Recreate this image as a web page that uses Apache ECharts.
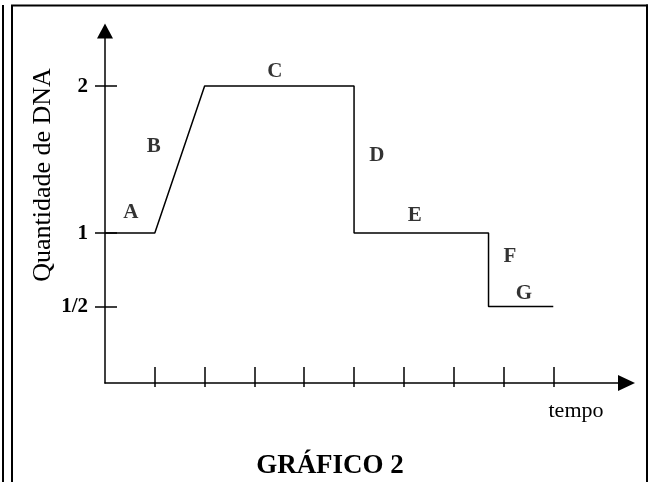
<!DOCTYPE html>
<html>
<head>
<meta charset="UTF-8">
<script src="https://cdn.jsdelivr.net/npm/echarts@6/dist/echarts.min.js"></script>
<title>Gráfico 2</title>
<style>
  html, body { margin: 0; padding: 0; background: #fff; }
  #chart { width: 651px; height: 482px; }
</style>
</head>
<body>
<div id="chart"></div>
<script>
// tempo / quantidade de DNA
var dnaTime   = [0, 1, 2, 5, 5, 7.7, 7.7, 9];
var dnaAmount = [1, 1, 2, 2, 1, 1, 0.5, 0.5];

// ticks
var xTicks      = [1, 2, 3, 4, 5, 6, 7, 8, 9];
var yTickValues = [0.5, 1, 2];
var yTickLabels = ['1/2', '1', '2'];

// letras das fases e onde ficam (em unidades do grafico)
var phaseNames = ['A', 'B', 'C', 'D', 'E', 'F', 'G'];
var phaseX     = [0.52, 0.98, 3.41, 5.46, 6.22, 8.13, 8.41];
var phaseY     = [1.14, 1.59, 2.10, 1.53, 1.12, 0.84, 0.59];

var SERIF = '"Liberation Serif", "Times New Roman", serif';
var X_MIN = 0, X_MAX = 10.47;
var Y_MIN = -0.02, Y_MAX = 2.375;

var lineData = dnaTime.map(function (t, i) { return [t, dnaAmount[i]]; });
var phaseData = phaseNames.map(function (n, i) {
	return { name: n, value: [phaseX[i], phaseY[i]] };
});

function yLabel(v) {
	var i = yTickValues.indexOf(v);
	return i < 0 ? '' : yTickLabels[i];
}

var chart = echarts.init(document.getElementById('chart'), null, { renderer: 'canvas' });

var option = {
	backgroundColor: '#fff',
	animation: false,
	title: {
		text: 'GRÁFICO 2',
		left: 325,
		top: 448,
		textAlign: 'center',
		textStyle: { fontFamily: SERIF, fontSize: 27, fontWeight: 'bold', color: '#000' }
	},
	grid: { left: 105, right: 24.5, top: 31, bottom: 99, outerBoundsMode: 'none' },
	xAxis: [{
		type: 'value', min: X_MIN, max: X_MAX, position: 'bottom',
		axisLine: { show: true, onZero: false, symbol: ['none', 'triangle'], symbolSize: [16, 17],
			lineStyle: { color: '#000', width: 1.5 } },
		axisTick: { show: true, inside: false, length: 4, customValues: xTicks,
			lineStyle: { color: '#000', width: 1.5 } },
		axisLabel: { show: false },
		splitLine: { show: false }
	}, {
		type: 'value', min: X_MIN, max: X_MAX, position: 'bottom',
		axisLine: { show: false, onZero: false },
		axisTick: { show: true, inside: true, length: 16, customValues: xTicks,
			lineStyle: { color: '#000', width: 1.5 } },
		axisLabel: { show: false },
		splitLine: { show: false }
	}],
	yAxis: [{
		type: 'value', min: Y_MIN, max: Y_MAX, position: 'left',
		axisLine: { show: true, onZero: false, symbol: ['none', 'triangle'], symbolSize: [16, 15],
			lineStyle: { color: '#000', width: 1.5 } },
		axisTick: { show: true, inside: false, length: 10, customValues: yTickValues,
			lineStyle: { color: '#000', width: 1.5 } },
		axisLabel: { show: true, customValues: yTickValues, margin: 17, formatter: yLabel,
			fontFamily: SERIF, fontSize: 21, fontWeight: 'bold', color: '#000' },
		splitLine: { show: false }
	}, {
		type: 'value', min: Y_MIN, max: Y_MAX, position: 'left',
		axisLine: { show: false, onZero: false },
		axisTick: { show: true, inside: true, length: 12, customValues: yTickValues,
			lineStyle: { color: '#000', width: 1.5 } },
		axisLabel: { show: false },
		splitLine: { show: false }
	}],
	graphic: [
		// moldura
		{ type: 'line', shape: { x1: 3, y1: 5, x2: 3, y2: 482 }, style: { stroke: '#000', lineWidth: 2 } },
		{ type: 'line', shape: { x1: 12, y1: 5.5, x2: 12, y2: 482 }, style: { stroke: '#000', lineWidth: 2 } },
		{ type: 'line', shape: { x1: 11, y1: 5.5, x2: 648, y2: 5.5 }, style: { stroke: '#000', lineWidth: 2 } },
		{ type: 'line', shape: { x1: 647, y1: 4.5, x2: 647, y2: 482 }, style: { stroke: '#000', lineWidth: 2 } },
		{
			type: 'text', x: 43, y: 175, rotation: Math.PI / 2,
			style: { text: 'Quantidade de DNA', fontFamily: SERIF, fontSize: 26, fill: '#000',
				textAlign: 'center', textVerticalAlign: 'middle' }
		},
		{
			type: 'text', x: 576, y: 411,
			style: { text: 'tempo', fontFamily: SERIF, fontSize: 22, fill: '#000',
				textAlign: 'center', textVerticalAlign: 'middle' }
		}
	],
	series: [{
		type: 'line',
		xAxisIndex: 0, yAxisIndex: 0,
		data: lineData,
		symbol: 'none',
		lineStyle: { color: '#000', width: 1.5 }
	}, {
		type: 'scatter',
		xAxisIndex: 0, yAxisIndex: 0,
		data: phaseData,
		symbolSize: 1,
		itemStyle: { color: 'rgba(0,0,0,0)' },
		label: {
			show: true, position: 'inside', formatter: '{b}',
			fontFamily: SERIF, fontSize: 21, fontWeight: 'bold', color: '#000'
		}
	}]
};
chart.setOption(option);
</script>
</body>
</html>
